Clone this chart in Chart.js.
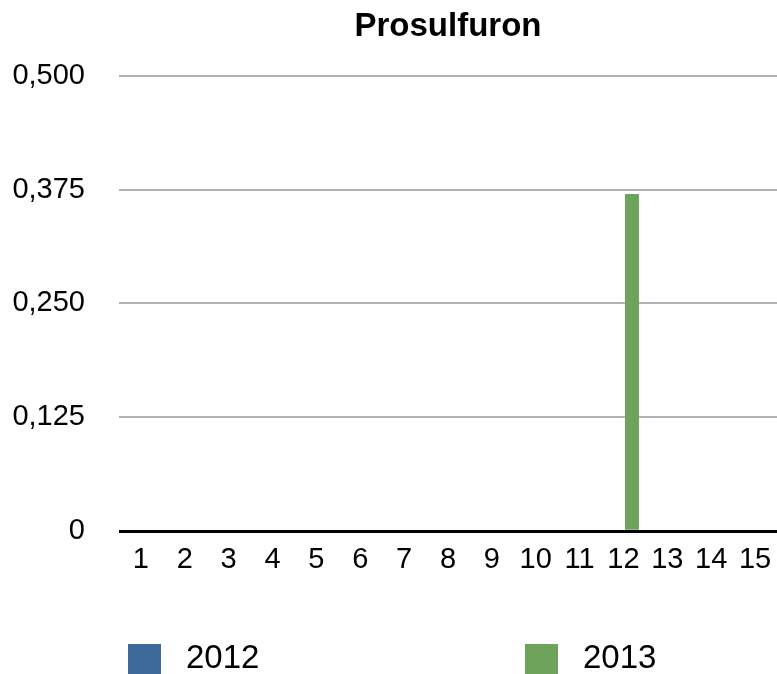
<!DOCTYPE html>
<html>
<head>
<meta charset="utf-8">
<script src="https://cdn.jsdelivr.net/npm/chart.js@4"></script>
<style>
  html, body { margin: 0; padding: 0; background: #fff; overflow: hidden; }
  #wrap { width: 777px; height: 674px; }
</style>
</head>
<body>
<div id="wrap"><canvas id="myChart" width="777" height="674"></canvas></div>
<script>
const categories = ['1', '2', '3', '4', '5', '6', '7', '8', '9', '10', '11', '12', '13', '14', '15'];
const values2012 = [0, 0, 0, 0, 0, 0, 0, 0, 0, 0, 0, 0, 0, 0, 0];
const values2013 = [0, 0, 0, 0, 0, 0, 0, 0, 0, 0, 0, 0.37, 0, 0, 0];
const yTicks = [0, 0.125, 0.25, 0.375, 0.5];

const FONT = '"Liberation Sans", Arial, Helvetica, sans-serif';

// legend drawn under the plot, squares + labels
const bottomLegend = {
  id: 'bottomLegend',
  afterDraw(chart) {
    const ctx = chart.ctx;
    ctx.save();
    ctx.font = '33px ' + FONT;
    ctx.textBaseline = 'middle';
    ctx.textAlign = 'left';
    chart.data.datasets.forEach((ds, i) => {
      const x = 128 + i * 397;
      ctx.fillStyle = ds.backgroundColor;
      ctx.fillRect(x, 644, 33, 33);
      ctx.fillStyle = '#000';
      ctx.fillText(ds.label, x + 58, 659);
    });
    ctx.restore();
  }
};

document.addEventListener('DOMContentLoaded', () => {
  const ctx = document.getElementById('myChart').getContext('2d');
  new Chart(ctx, {
    type: 'bar',
    data: {
      labels: categories,
      datasets: [
        { label: '2012', data: values2012, backgroundColor: '#3e6a9b' },
        { label: '2013', data: values2013, backgroundColor: '#6da35a' }
      ]
    },
    options: {
      responsive: false,
      animation: false,
      categoryPercentage: 0.775,
      barPercentage: 0.82,
      layout: { padding: { left: 12, right: 0, top: 0, bottom: 86 } },
      plugins: {
        legend: { display: false },
        tooltip: { enabled: false },
        title: {
          display: true,
          text: 'Prosulfuron',
          fullSize: false,
          color: '#000',
          font: { family: FONT, size: 33, weight: 'bold' },
          padding: { top: 7, bottom: 29 }
        }
      },
      scales: {
        x: {
          grid: { display: false, drawTicks: false, tickLength: 0 },
          border: { display: false },
          ticks: {
            color: '#000',
            font: { family: FONT, size: 29 },
            padding: 11,
            maxRotation: 0,
            autoSkip: false
          },
          afterFit: (scale) => { scale.paddingLeft = 0; scale.paddingRight = 0; }
        },
        y: {
          min: 0,
          max: 0.5,
          afterBuildTicks: (scale) => { scale.ticks = yTicks.map(v => ({ value: v })); },
          afterFit: (scale) => { scale.width = 107; },
          border: { display: false },
          grid: {
            drawTicks: false,
            tickLength: 0,
            color: (c) => c.tick && c.tick.value === 0 ? '#000' : '#b3b3b3',
            lineWidth: (c) => c.tick && c.tick.value === 0 ? 3 : 2
          },
          ticks: {
            color: '#000',
            font: { family: FONT, size: 29 },
            padding: 34,
            callback: (v) => v === 0 ? '0' : v.toFixed(3).replace('.', ',')
          }
        }
      }
    },
    plugins: [bottomLegend]
  });
});
</script>
</body>
</html>
